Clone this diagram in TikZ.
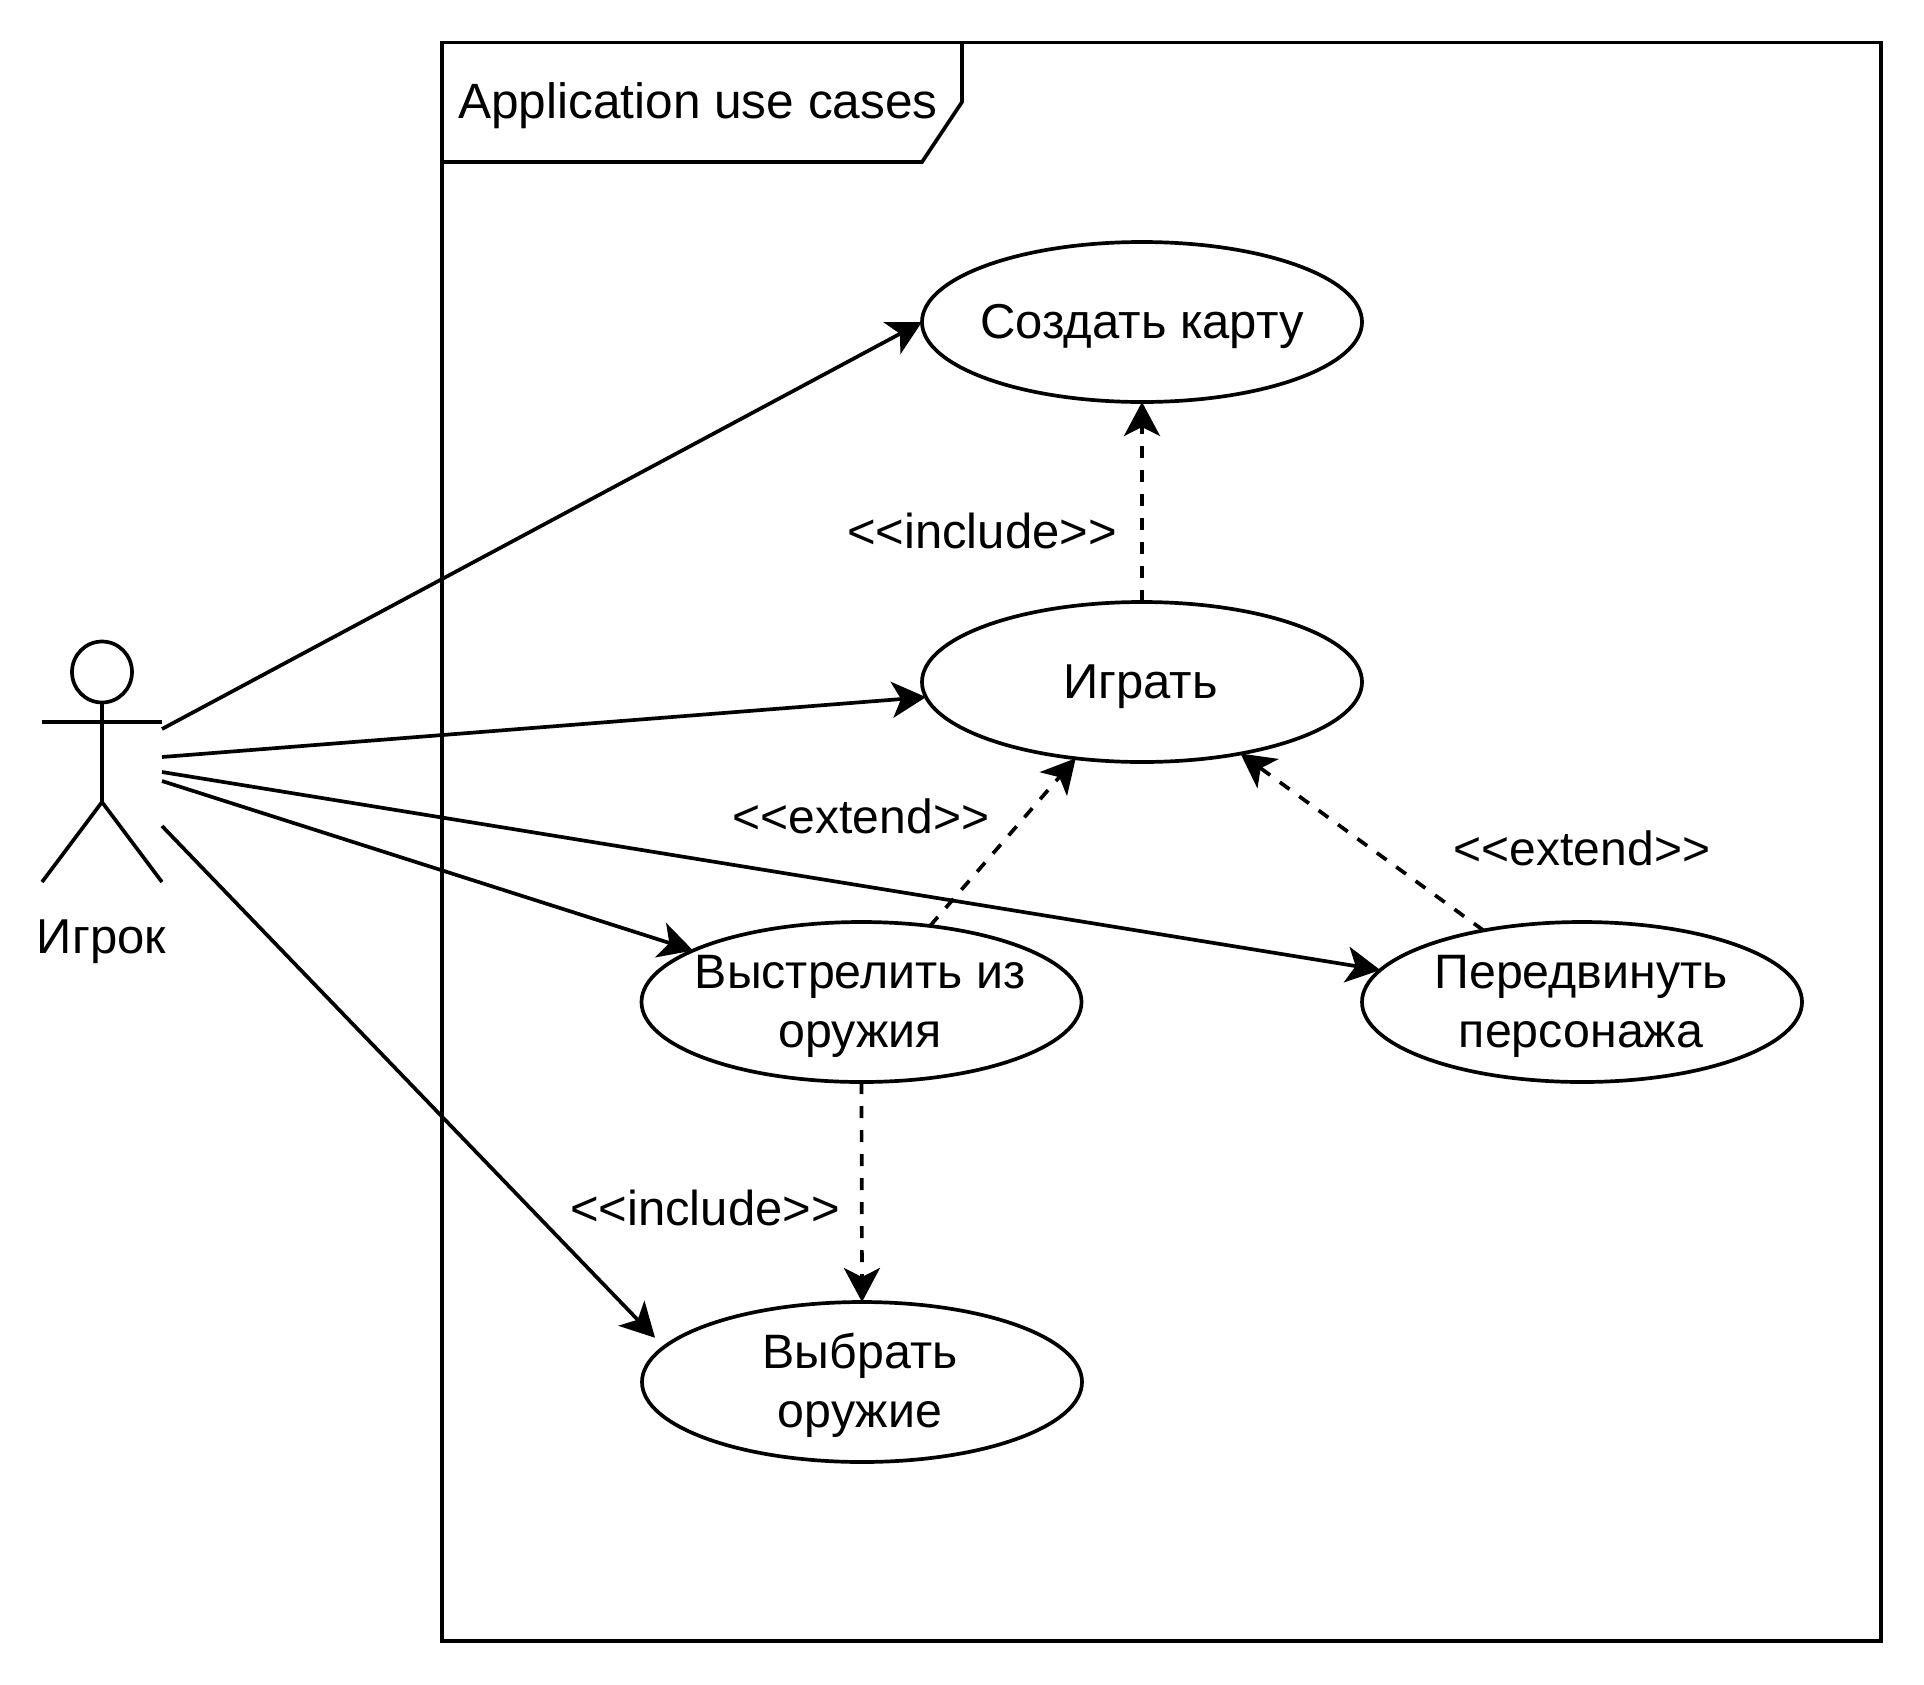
\documentclass[tikz,border=0pt]{standalone}
\usepackage{fontspec}
\setmainfont{Liberation Sans}
\usetikzlibrary{arrows.meta,shapes.geometric}
\newcommand{\uctext}[1]{\raisebox{-4.5pt}[\height][\depth]{\begin{tabular}{@{}c@{}}#1\end{tabular}}}
\tikzset{
  every node/.style={font=\fontsize{49}{59}\selectfont, align=center, inner sep=0pt, outer sep=0pt},
  line/.style={line width=3.7pt, draw=black},
  usecase/.style={ellipse, line, fill=white, minimum width=440pt, minimum height=160pt, inner sep=-30pt},
  narrowtext/.style={font=\fontsize{48.3}{59}\selectfont},
  assoc/.style={line, -{Stealth[length=34pt,width=36pt,inset=9pt]}},
  depend/.style={assoc, dash pattern=on 12pt off 12pt}
}
\begin{document}
\begin{tikzpicture}[x=1pt,y=-1pt]
\useasboundingbox (0,0) rectangle (1924,1684);
\fill[white] (0,0) rectangle (1924,1684);
% frame
\draw[line] (442,42.5) rectangle (1881,1641);
\draw[line] (442,162) -- (922,162) -- (962,102) -- (962,42.5);
\node[anchor=base west, font=\fontsize{49.6}{59}\selectfont] (title) at (458,118) {Application use cases};
% actor
\draw[line] (102,672) ellipse (30 and 30.5);
\draw[line] (102,702.5) -- (102,802);
\draw[line] (42,722) -- (162,722);
\draw[line] (42,882) -- (102,802) -- (162,882);
\node[anchor=base] (player) at (101.5,953) {Игрок};
\coordinate (a1) at (162,729);
\coordinate (a2) at (162,757);
\coordinate (a3) at (162,772);
\coordinate (a4) at (162,781);
\coordinate (a5) at (162,826);
% use cases
\node[usecase] (create) at (1142,322) {\uctext{Создать карту}};
\node[usecase] (play) at (1142,682) {\uctext{\hspace*{-3pt}Играть}};
\node[usecase, narrowtext] (shoot) at (861.5,1002) {\uctext{\hspace*{-3pt}Выстрелить из\\\hspace*{-3pt}оружия}};
\node[usecase, narrowtext] (move) at (1582,1002) {\uctext{\hspace*{-2pt}Передвинуть\\\hspace*{-2pt}персонажа}};
\node[usecase, narrowtext] (pick) at (862,1382) {\uctext{\hspace*{-4pt}Выбрать\\\hspace*{-4pt}оружие}};
% associations
\draw[assoc] (a1) -- (create.west);
\draw[assoc] (a2) -- (play.184.7);
\draw[assoc] (a3) -- (move.171);
\draw[assoc] (a4) -- (shoot.163);
\draw[assoc, shorten >=13pt] (a5) -- (pick.170.65);
% dependencies
\draw[depend] (play.north) -- (create.south);
\draw[depend] (shoot.48.9) -- (play.229);
\draw[depend] (move.144) -- (play.324.5);
\draw[depend] (shoot.south) -- (pick.north);
% labels
\node (inc1) at (982,531) {<\kern0pt<include>\kern0pt>};
\node[font=\fontsize{48}{59}\selectfont] (ext1) at (861,816) {<\kern0pt<extend>\kern0pt>};
\node[font=\fontsize{48}{59}\selectfont] (ext2) at (1582,848) {<\kern0pt<extend>\kern0pt>};
\node (inc2) at (705,1208) {<\kern0pt<include>\kern0pt>};
\end{tikzpicture}
\end{document}
